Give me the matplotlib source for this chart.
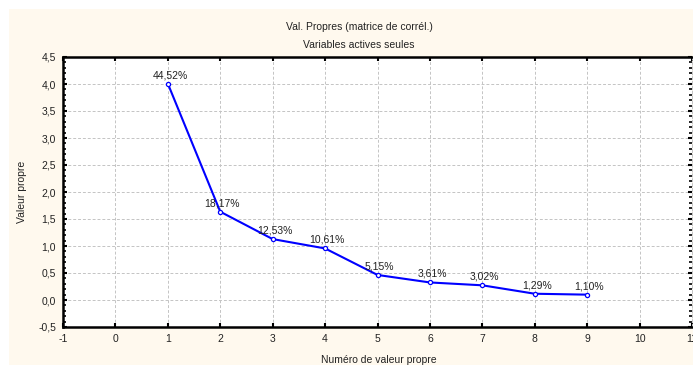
import matplotlib
matplotlib.use("Agg")
import matplotlib.pyplot as plt
from matplotlib.patches import Rectangle
from matplotlib.ticker import MultipleLocator, FuncFormatter

# Data
components = [1, 2, 3, 4, 5, 6, 7, 8, 9]
pct_labels = ["44,52%", "18,17%", "12,53%", "10,61%", "5,15%", "3,61%", "3,02%", "1,29%", "1,10%"]
eigenvalues = [4.007, 1.635, 1.128, 0.955, 0.464, 0.325, 0.272, 0.116, 0.099]
x_ticks = [-1, 0, 1, 2, 3, 4, 5, 6, 7, 8, 9, 10, 11]
y_ticks = [-0.5, 0.0, 0.5, 1.0, 1.5, 2.0, 2.5, 3.0, 3.5, 4.0, 4.5]

plt.rcParams['font.family'] = ['Liberation Sans', 'DejaVu Sans']

W, H = 693, 365
fig = plt.figure(figsize=(W / 100, H / 100), dpi=100)
fig.patch.set_facecolor('white')
fig.add_artist(Rectangle((9 / W, 0), 1 - 9 / W, 1 - 9 / H, transform=fig.transFigure,
                         facecolor='#FFF9EE', edgecolor='none', zorder=-10))

ax = fig.add_axes([63 / W, 38 / H, (692 - 63) / W, (327 - 57) / H])
ax.set_zorder(1)
ax.set_facecolor('white')

ax.plot(components, eigenvalues, color='#0000FF', lw=1.5, marker='o', ms=3.0,
        mfc='white', mec='#0000FF', mew=0.9, zorder=3)
for xv, yv, lab in zip(components, eigenvalues, pct_labels):
    ax.annotate(lab, (xv, yv), xytext=(1.5, 2.5), textcoords='offset points',
                ha='center', va='bottom', fontsize=7.5, color='#222222', zorder=4)

ax.set_xlim(-1, 11)
ax.set_ylim(-0.5, 4.5)
ax.set_xticks(x_ticks)
ax.set_yticks(y_ticks)
ax.xaxis.set_major_formatter(FuncFormatter(lambda v, p: f"{int(round(v))}"))
ax.yaxis.set_major_formatter(FuncFormatter(lambda v, p: f"{v:.1f}".replace('.', ',')))
ax.yaxis.set_minor_locator(MultipleLocator(0.1))

ax.grid(True, which='major', color='#C4C4C4', ls=(0, (3, 2)), lw=0.7)
ax.set_axisbelow(True)

for s in ['left', 'bottom', 'top']:
    ax.spines[s].set_linewidth(1.8)
    ax.spines[s].set_color('black')
ax.spines['right'].set_color('#C4C4C4')
ax.spines['right'].set_linestyle((0, (3, 2)))
ax.spines['right'].set_linewidth(0.7)

ax.tick_params(axis='both', which='major', labelsize=7.5, colors='black', labelcolor='#222222',
               direction='in', length=3, width=1.5, pad=5)
ax.tick_params(axis='x', top=True)
ax.tick_params(axis='y', which='both', left=True, right=True)
ax.tick_params(axis='y', which='minor', direction='in', length=2.5, width=1.2)

fig.text(22 / W, 1 - 192 / H, 'Valeur propre', rotation=90, ha='center', va='center',
         fontsize=7.5, color='#222222')
fig.text(379 / W, 1 - 360 / H, 'Numéro de valeur propre', ha='center', va='center',
         fontsize=7.5, color='#222222')

fig.text(359 / W, 1 - 27 / H, 'Val. Propres (matrice de corrél.)', ha='center', va='center',
         fontsize=7.5, color='#222222')
fig.text(359 / W, 1 - 45 / H, 'Variables actives seules', ha='center', va='center',
         fontsize=7.5, color='#222222')

fig.savefig('out.png', dpi=100, facecolor=fig.get_facecolor())
